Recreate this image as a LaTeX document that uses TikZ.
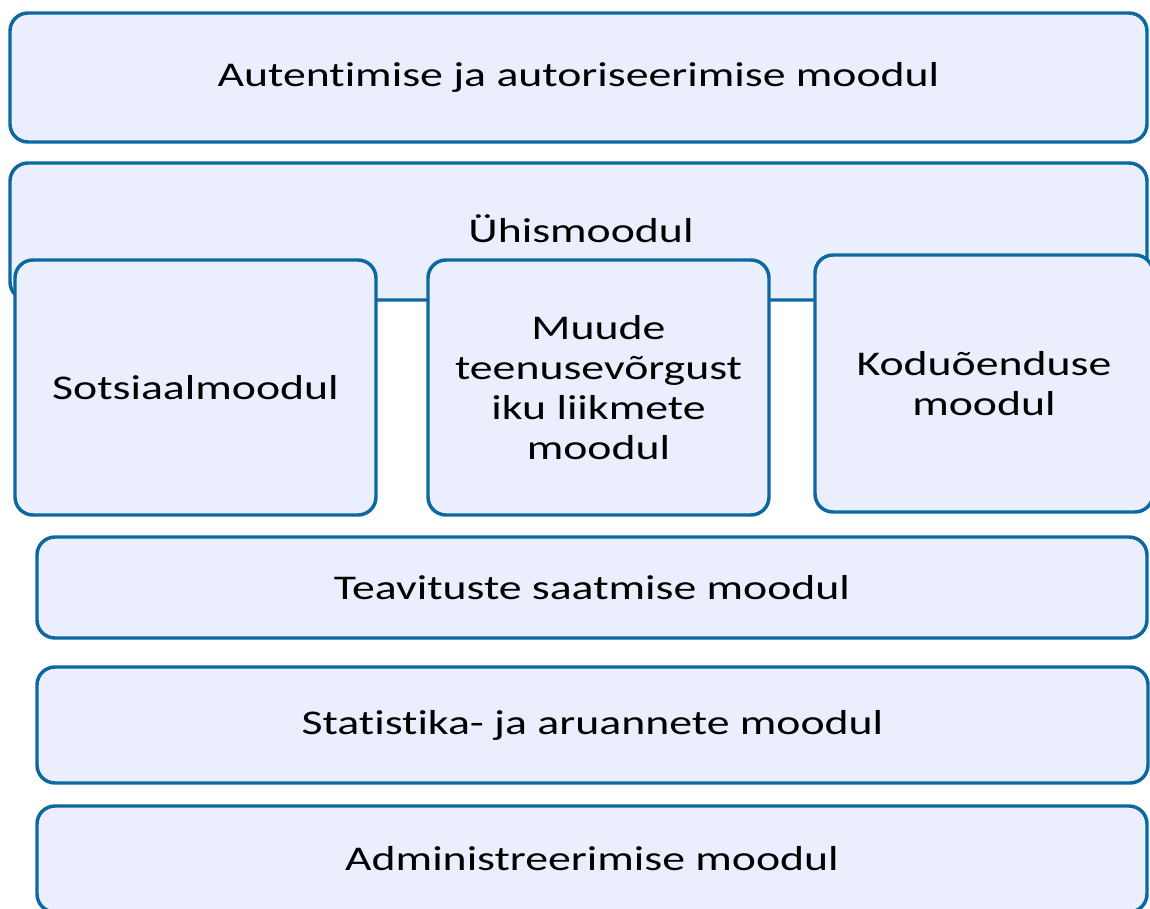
\documentclass[tikz,border=0pt]{standalone}
\usepackage{fontspec}
\setmainfont{Carlito}[FakeStretch=1.32,Ligatures=NoCommon]
\definecolor{edge}{HTML}{0B699F}
\definecolor{panel}{HTML}{EBEEFD}
\begin{document}
\begin{tikzpicture}[x=0.75pt,y=-0.75pt,
  box/.style={draw=edge,fill=panel,line width=2.6pt,rounded corners=13.5pt,
    rectangle,inner sep=0pt,outer sep=0pt,
    font=\fontsize{26pt}{30pt}\selectfont,text=black,align=center},
  boxsize/.style 2 args={minimum width={#1*0.75pt},minimum height={#2*0.75pt}},
  txt/.style={inner sep=0pt,font=\fontsize{26pt}{30pt}\selectfont,text=black}]
\useasboundingbox (0,0) rectangle (1150,909);
\clip (0,0) rectangle (1150,909);
% top layer
\node[box,boxsize={1137}{129}] (auth) at (578.5,77.5)
  {Autentimise ja autoriseerimise moodul};
% common module with its three sub-modules on top
\node[box,boxsize={1137}{137}] (common) at (578.5,231.5) {};
\node[txt] (commonlabel) at (581,229) {Ühismoodul};
\node[box,boxsize={361}{255}] (social) at (195.5,387.5)
  {Sotsiaalmoodul};
\node[box,boxsize={341}{255}] (network) at (598.5,387.5)
  {Muude\\teenusevõrgust\\iku liikmete\\moodul};
\node[box,boxsize={338}{257}] (homecare) at (984,383.5)
  {Koduõenduse\\moodul};
% lower layers
\node[box,boxsize={1110}{101}] (notify) at (592,587.5)
  {Teavituste saatmise moodul};
\node[box,boxsize={1111}{116}] (stats) at (592.5,725)
  {Statistika- ja aruannete moodul};
\node[box,boxsize={1110}{106}] (admin) at (592,859)
  {Administreerimise moodul};
\end{tikzpicture}
\end{document}
